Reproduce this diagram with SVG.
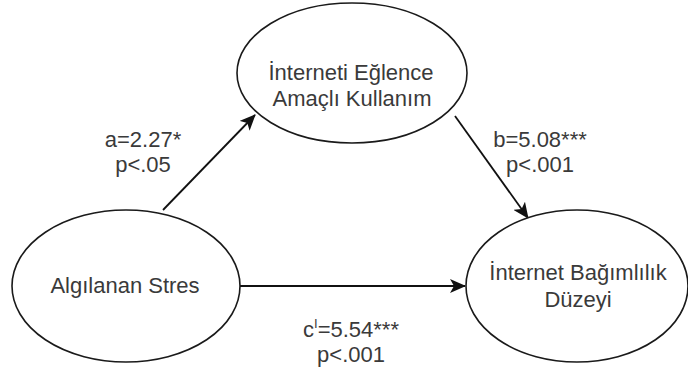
<svg xmlns="http://www.w3.org/2000/svg" width="688" height="378" viewBox="0 0 688 378">
<style>
.node{fill:#fff;stroke:#1a1a1a;stroke-width:1.6}
.lbl{font-family:"Liberation Sans",Arial,sans-serif;font-size:22px;fill:#3a3a3a;text-anchor:middle}
.edge{stroke:#111;stroke-width:1.8;fill:none}
</style>
<defs>
<marker id="arrB" viewBox="0 0 16 14" refX="15" refY="7" markerWidth="16" markerHeight="14" markerUnits="userSpaceOnUse" orient="auto">
<path d="M0,0 L16,7 L0,14 L4,7 z" fill="#111"/>
</marker>
</defs>
<g id="connectors">
<line class="edge" x1="163" y1="210" x2="255" y2="115" marker-end="url(#arrB)"/>
<line class="edge" x1="455" y1="116" x2="528" y2="218" marker-end="url(#arrB)"/>
<line class="edge" x1="240" y1="286" x2="465" y2="286" marker-end="url(#arrB)"/>
</g>
<g id="node-top">
<ellipse class="node" cx="352" cy="73" rx="115" ry="70"/>
<text class="lbl" x="351" y="80">İnterneti Eğlence</text>
<text class="lbl" x="352" y="106">Amaçlı Kullanım</text>
</g>
<g id="node-left">
<ellipse class="node" cx="126" cy="286" rx="114" ry="76"/>
<text class="lbl" x="125" y="293">Algılanan Stres</text>
</g>
<g id="node-right">
<ellipse class="node" cx="577" cy="286" rx="111" ry="76"/>
<text class="lbl" x="578" y="280">İnternet Bağımlılık</text>
<text class="lbl" x="578" y="307">Düzeyi</text>
</g>
<g id="labels">
<text class="lbl" x="143" y="147">a=2.27*</text>
<text class="lbl" x="143" y="172">p&lt;.05</text>
<text class="lbl" x="540" y="147">b=5.08***</text>
<text class="lbl" x="540" y="172">p&lt;.001</text>
<text class="lbl" x="351" y="337">c<tspan font-size="13" dy="-9">I</tspan><tspan dy="9">=5.54***</tspan></text>
<text class="lbl" x="351" y="362">p&lt;.001</text>
</g>
</svg>
